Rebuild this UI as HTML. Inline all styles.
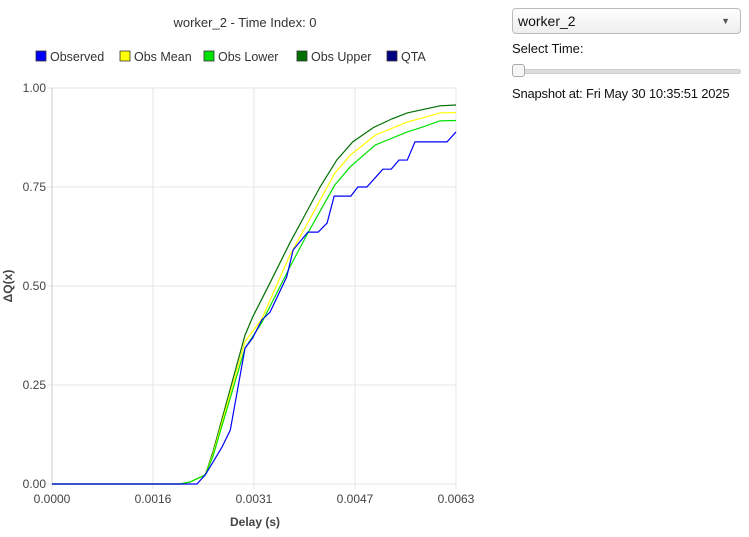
<!DOCTYPE html>
<html><head><meta charset="utf-8"><style>
body{margin:0;width:749px;height:537px;background:#fff;font-family:"Liberation Sans",sans-serif;overflow:hidden;position:relative}
svg{position:absolute;left:0;top:0}
.sel{position:absolute;left:512px;top:8px;border:1px solid #bbb;border-radius:4px;background:linear-gradient(#fff,#eee);font-size:14px;line-height:25px;box-sizing:border-box;padding-left:5px;width:229px;height:26px;color:#111}
.sel span{position:absolute;right:10px;top:0;font-size:9px;color:#555}
.lbl{position:absolute;left:512px;font-size:13px;color:#111}
.track{position:absolute;left:512px;top:69px;width:229px;height:5px;background:#ddd;border:1px solid #ccc;border-radius:3px;box-sizing:border-box}
.thumb{position:absolute;left:512px;top:64px;width:13px;height:13px;background:#f6f6f6;border:1px solid #aaa;border-radius:3px;box-sizing:border-box}
</style></head><body>
<svg id="chart" width="749" height="537"></svg>
<div class="sel">worker_2<span>▼</span></div>
<div class="lbl" style="top:41px">Select Time:</div>
<div class="track"></div>
<div class="thumb"></div>
<div class="lbl" style="top:86px;letter-spacing:-0.2px">Snapshot at: Fri May 30 10:35:51 2025</div>
<script>
const xTicks=[0,0.001575,0.00315,0.004725,0.0063];
const xTickLabels=["0.0000","0.0016","0.0031","0.0047","0.0063"];
const yTicks=[0,0.25,0.5,0.75,1];
const yTickLabels=["0.00","0.25","0.50","0.75","1.00"];
const obsX=[0,0.00226,0.00239,0.00265,0.00278,0.00301,0.00313,0.00327,0.00340,0.00366,0.00376,0.00399,0.00415,0.00429,0.00440,0.00466,0.00477,0.00491,0.00516,0.00529,0.00541,0.00554,0.00566,0.00616,0.0063];
const obsY=[0,0,0.023,0.093,0.136,0.343,0.369,0.414,0.434,0.523,0.591,0.636,0.636,0.659,0.727,0.727,0.750,0.750,0.795,0.795,0.818,0.818,0.864,0.864,0.889];
const upX=[0,0.00200,0.00215,0.00239,0.00251,0.00301,0.00313,0.00340,0.00371,0.00398,0.00418,0.00444,0.00469,0.00501,0.00530,0.00554,0.00605,0.0063];
const upY=[0,0,0.005,0.023,0.081,0.376,0.422,0.508,0.609,0.690,0.750,0.818,0.864,0.900,0.922,0.937,0.955,0.957];
const loX=[0,0.00200,0.00215,0.00239,0.00251,0.00301,0.00327,0.00371,0.00399,0.00441,0.00465,0.00504,0.00554,0.00579,0.00605,0.0063];
const loY=[0,0,0.005,0.023,0.070,0.343,0.407,0.548,0.634,0.755,0.801,0.856,0.889,0.902,0.917,0.918];
const meanX=[0,0.00200,0.00215,0.00239,0.00251,0.00301,0.00327,0.00371,0.00399,0.00441,0.00465,0.00504,0.00554,0.00579,0.00605,0.0063];
const meanY=[0,0,0.005,0.023,0.075,0.360,0.416,0.578,0.660,0.785,0.830,0.881,0.914,0.925,0.937,0.938];
const X0=52,X1=456,Y0=484,Y1=88,XMAX=0.0063;
const sx=v=>X0+v/XMAX*(X1-X0), sy=v=>Y0-v*(Y0-Y1);
const svg=document.getElementById('chart');const NS='http://www.w3.org/2000/svg';
function mk(t,a,txt){const e=document.createElementNS(NS,t);for(const k in a)e.setAttribute(k,a[k]);if(txt!=null)e.textContent=txt;svg.appendChild(e);return e;}
xTicks.forEach((v,i)=>{const g=mk('line',{x1:sx(v),x2:sx(v),y1:Y1,y2:Y0+5,stroke:'#e6e6e6','stroke-width':1});


const t=mk('text',{x:sx(v),y:Y0+19,'text-anchor':'middle','font-size':12,fill:'#444'},xTickLabels[i]);

});
yTicks.forEach((v,i)=>{const g=mk('line',{x1:X0-5,x2:X1,y1:sy(v),y2:sy(v),stroke:'#e6e6e6','stroke-width':1});


const t=mk('text',{x:X0-6,y:sy(v)+4,'text-anchor':'end','font-size':12,fill:'#444'},yTickLabels[i]);

});
const ax=mk('line',{x1:X0,x2:X0,y1:Y1,y2:Y0,stroke:'#ccc'});


function line(xs,ys,c,name){const p=mk('polyline',{points:xs.map((x,i)=>sx(x)+','+sy(ys[i])).join(' '),fill:'none',stroke:c,'stroke-width':1.2});

}
line(upX,upY,'#007000','obs-upper-line');
line(meanX,meanY,'#ffff00','obs-mean-line');
line(loX,loY,'#00e000','obs-lower-line');
line(obsX,obsY,'#0000ff','observed-line');
let t=mk('text',{x:245,y:27,'text-anchor':'middle','font-size':13,fill:'#333'},'worker_2 - Time Index: 0');


t=mk('text',{x:255,y:526,'text-anchor':'middle','font-size':12,'font-weight':'bold',fill:'#444'},'Delay (s)');


t=mk('text',{x:12,y:286,'text-anchor':'middle','font-size':12,'font-weight':'bold',fill:'#444',transform:'rotate(-90 12 286)'},'ΔQ(x)');


const legNames=['Observed','Obs Mean','Obs Lower','Obs Upper','QTA'];
const legColors=['#0000ff','#ffff00','#00e000','#007000','#000080'];
const legX=[36,120,204,297,387];
legNames.forEach((n,i)=>{const r=mk('rect',{x:legX[i],y:51,width:10,height:10,fill:legColors[i],stroke:'#333','stroke-width':0.8});


const tx=mk('text',{x:legX[i]+14,y:61,'font-size':12.5,fill:'#333'},n);

});
</script>
</body></html>
